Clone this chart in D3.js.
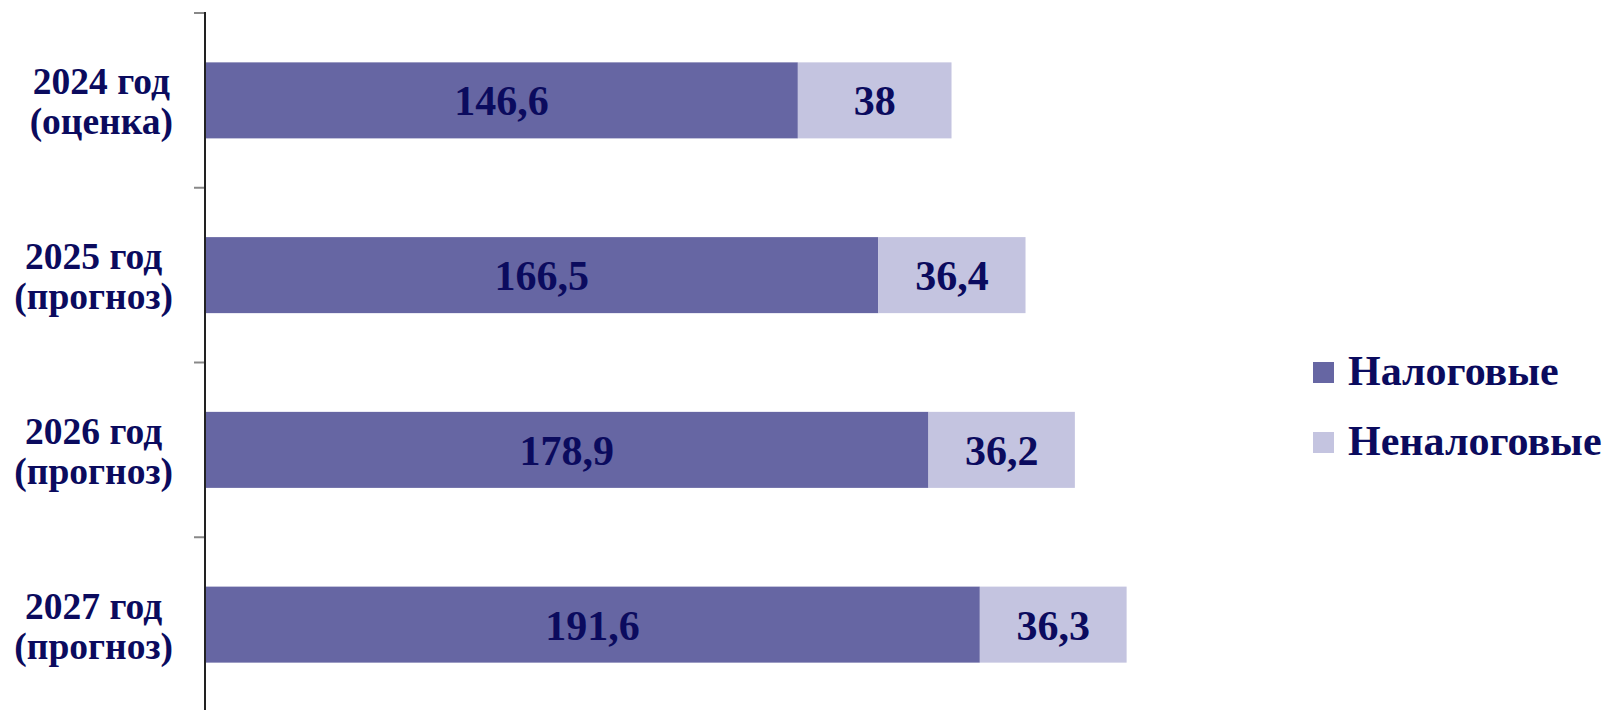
<!DOCTYPE html>
<html>
<head>
<meta charset="utf-8">
<script src="https://cdn.jsdelivr.net/npm/d3@7"></script>
<style>
  body { margin: 0; background: #fff; }
  svg { display: block; font-family: "Liberation Serif", "Times New Roman", serif; font-weight: bold; }
</style>
</head>
<body>
<svg id="vis" width="1611" height="710"></svg>
<script>
// data
const categories = ['2024 год|(оценка)', '2025 год|(прогноз)', '2026 год|(прогноз)', '2027 год|(прогноз)'];
const taxValues = [146.6, 166.5, 178.9, 191.6];
const nonTaxValues = [38, 36.4, 36.2, 36.3];
const seriesNames = ['Налоговые', 'Неналоговые'];
const seriesColors = ['#6666a3', '#c4c4e0'];
const textColor = '#0b0b5e';

const vis = d3.select('#vis');

const x = d3.scaleLinear().domain([0, 250]).range([205, 1216]);
const y = d3.scaleBand().domain(categories).range([13, 712]).padding(0);
const barHeight = y.bandwidth() * 0.435;
const barY = d => y(d) + (y.bandwidth() - barHeight) / 2;

const rows = categories.map((c, i) => ({
  cat: c,
  parts: [
    {s: 0, v: taxValues[i], x0: 0, x1: taxValues[i]},
    {s: 1, v: nonTaxValues[i], x0: taxValues[i], x1: taxValues[i] + nonTaxValues[i]}
  ]
}));

const fmt = v => String(v).replace('.', ',');

// bars
const row = vis.selectAll('g.row').data(rows).enter().append('g').classed('row', true);

row.selectAll('rect').data(d => d.parts.map(p => Object.assign({cat: d.cat}, p)))
  .enter().append('rect')
    .attr('x', d => x(d.x0))
    .attr('y', d => barY(d.cat))
    .attr('width', d => x(d.x1) - x(d.x0))
    .attr('height', barHeight)
    .attr('fill', d => seriesColors[d.s]);

row.selectAll('text.val').data(d => d.parts.map(p => Object.assign({cat: d.cat}, p)))
  .enter().append('text')
    .classed('val', true)
    .attr('x', d => (x(d.x0) + x(d.x1)) / 2)
    .attr('y', d => y(d.cat) + y.bandwidth() / 2 + 15)
    .attr('text-anchor', 'middle')
    .attr('font-size', 42)
    .attr('fill', textColor)
    .text(d => fmt(d.v));

// axis line + ticks at band boundaries
const tickYs = categories.map(c => y(c)).concat([y.range()[1]]);
vis.selectAll('line.tick').data(tickYs).enter().append('line')
  .attr('x1', 194).attr('x2', 205)
  .attr('y1', d => d).attr('y2', d => d)
  .attr('stroke', '#888').attr('stroke-width', 2);

vis.append('line')
  .attr('x1', 205).attr('x2', 205)
  .attr('y1', y.range()[0] - 1).attr('y2', 710)
  .attr('stroke', '#222').attr('stroke-width', 2);

// category labels: lines centred on each other, block right-aligned near the axis
const labelRight = 173;
categories.forEach(c => {
  const lines = c.split('|');
  const g = vis.append('g');
  const texts = lines.map((ln, j) => g.append('text')
    .attr('y', y(c) + y.bandwidth() / 2 - 6 + j * 40)
    .attr('text-anchor', 'middle')
    .attr('font-size', 37.5)
    .attr('fill', textColor)
    .text(ln));
  const maxW = d3.max(texts, t => t.node().getComputedTextLength());
  texts.forEach(t => t.attr('x', labelRight - maxW / 2));
});

// legend
const legend = vis.selectAll('g.legend').data(seriesNames).enter().append('g')
  .classed('legend', true)
  .attr('transform', (d, i) => `translate(1313, ${362 + i * 70})`);

legend.append('rect')
  .attr('width', 21).attr('height', 21)
  .attr('fill', (d, i) => seriesColors[i]);

legend.append('text')
  .attr('x', 35).attr('y', 23)
  .attr('font-size', 42)
  .attr('fill', textColor)
  .text(d => d);
</script>
</body>
</html>
